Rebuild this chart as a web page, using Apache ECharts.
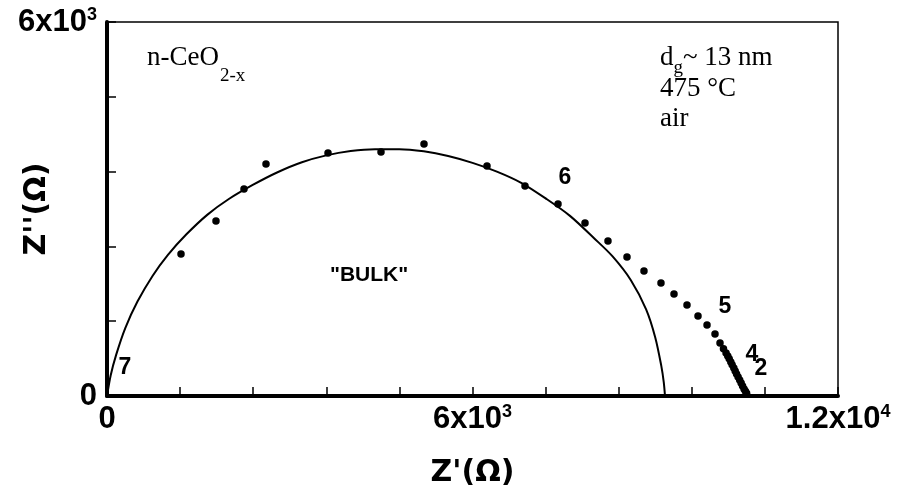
<!DOCTYPE html>
<html>
<head>
<meta charset="utf-8">
<script src="https://cdn.jsdelivr.net/npm/echarts@6/dist/echarts.min.js"></script>
<style>
  html, body { margin: 0; padding: 0; background: #fff; }
  #chart { width: 899px; height: 492px; }
</style>
</head>
<body>
<div id="chart"></div>
<script>
// Measured impedance spectrum, n-CeO2-x, 475 °C in air (Ohm)
const measuredReal = [1215, 1789, 2249, 2610, 3628, 4498, 5204, 6238, 6862, 7404, 7847, 8224, 8536, 8815, 9094, 9308, 9521, 9702, 9850, 9981, 10063, 10120,
  10162, 10190, 10214, 10240, 10262, 10290, 10312, 10335, 10360, 10386, 10410, 10433, 10458, 10480, 10500];
const measuredImag = [2278, 2808, 3321, 3722, 3898, 3914, 4043, 3690, 3369, 3080, 2775, 2487, 2230, 2005, 1813, 1636, 1460, 1283, 1139, 995, 850, 760,
  690, 640, 596, 545, 500, 448, 400, 352, 306, 255, 210, 160, 112, 78, 45];

// Fitted bulk arc
const fitReal = [0, 60, 150, 300, 500, 750, 1000, 1300, 1650, 2000, 2400, 2800, 3200, 3600, 4000, 4400, 4800, 5200, 5600, 6000,
  6400, 6800, 7200, 7600, 8000, 8300, 8600, 8850, 9000, 9100, 9140, 9160];
const fitImag = [0, 330, 660, 1090, 1515, 1930, 2265, 2590, 2910, 3160, 3390, 3590, 3750, 3860, 3930, 3960, 3960, 3925, 3850, 3740,
  3600, 3420, 3170, 2890, 2527, 2239, 1858, 1390, 940, 480, 220, 0];

// log(frequency) decade markers
const decadeLabels = ['7', '6', '5', '4', '2'];
const decadeReal = [295, 7518, 10145, 10588, 10736];
const decadeImag = [449, 3497, 1428, 658, 433];

// Tick labels shown on the axes (all other ticks unlabeled)
const xTickText = { 0: '{m|0}', 6000: '{m|6x10}{s|3}', 12000: '{m|1.2x10}{s|4}' };
const yTickText = { 0: '{m|0}', 6000: '{m|6x10}{s|3}' };

const pairs = (xs, ys) => xs.map((x, i) => [x, ys[i]]);

const tickRich = {
  m: { fontFamily: 'Liberation Sans', fontWeight: 'bold', fontSize: 31, lineHeight: 32, color: '#000' },
  s: { fontFamily: 'Liberation Sans', fontWeight: 'bold', fontSize: 18, lineHeight: 18, verticalAlign: 'top', color: '#000' }
};

const chart = echarts.init(document.getElementById('chart'), null, { renderer: 'canvas' });

chart.setOption({
  backgroundColor: '#fff',
  animation: false,
  grid: {
    left: 107, right: 61, top: 22, bottom: 96,
    containLabel: false, outerBoundsMode: 'none',
    show: true, borderColor: '#000', borderWidth: 1.5, backgroundColor: 'transparent'
  },
  xAxis: {
    type: 'value', min: 0, max: 12000, interval: 1200,
    axisLine: { lineStyle: { color: '#000', width: 4 } },
    axisTick: { inside: true, length: 9, lineStyle: { color: '#000', width: 1.5 } },
    splitLine: { show: false },
    axisLabel: {
      margin: 7, showMinLabel: true, showMaxLabel: true, hideOverlap: false,
      formatter: v => xTickText[v] || '',
      rich: tickRich
    },
    name: "Z'(Ω)", nameLocation: 'middle', nameGap: 62, nameMoveOverlap: false,
    nameTextStyle: { fontFamily: 'DejaVu Sans', fontWeight: 'bold', fontSize: 30, color: '#000' }
  },
  yAxis: {
    type: 'value', min: 0, max: 6000, interval: 1200,
    axisLine: { lineStyle: { color: '#000', width: 4 } },
    axisTick: { inside: true, length: 9, lineStyle: { color: '#000', width: 1.5 } },
    splitLine: { show: false },
    axisLabel: {
      margin: 10, showMinLabel: true, showMaxLabel: true, hideOverlap: false,
      formatter: v => yTickText[v] || '',
      rich: tickRich
    },
    name: "Z''(Ω)", nameLocation: 'middle', nameGap: 55, nameMoveOverlap: false,
    nameTextStyle: { fontFamily: 'DejaVu Sans', fontWeight: 'bold', fontSize: 30, color: '#000' }
  },
  series: [
    {
      name: 'fit', type: 'line', data: pairs(fitReal, fitImag),
      smooth: 0.3, showSymbol: false, silent: true,
      lineStyle: { color: '#000', width: 2 }
    },
    {
      name: 'measured', type: 'scatter', data: pairs(measuredReal, measuredImag),
      symbol: 'circle', symbolSize: 7.5, silent: true,
      itemStyle: { color: '#000', opacity: 1 }
    },
    {
      name: 'decades', type: 'scatter', silent: true,
      data: decadeLabels.map((t, i) => ({ value: [decadeReal[i], decadeImag[i]], name: t })),
      symbolSize: 0,
      itemStyle: { opacity: 1 },
      label: {
        show: true, position: 'inside', formatter: p => p.name,
        fontFamily: 'Liberation Sans', fontWeight: 'bold', fontSize: 23, color: '#000'
      }
    }
  ],
  graphic: [
    {
      type: 'text', left: 147, top: 44,
      style: {
        text: '{a|n-CeO}{b|2-x}',
        rich: {
          a: { fontFamily: 'Liberation Serif', fontSize: 27, lineHeight: 30, verticalAlign: 'top', fill: '#000' },
          b: { fontFamily: 'Liberation Serif', fontSize: 19, lineHeight: 19, verticalAlign: 'bottom', padding: [0, 0, -12, 1], fill: '#000' }
        }
      }
    },
    {
      type: 'text', left: 660, top: 44,
      style: {
        text: '{a|d}{b|g}{a|~ 13 nm}',
        rich: {
          a: { fontFamily: 'Liberation Serif', fontSize: 27, lineHeight: 30, fill: '#000' },
          b: { fontFamily: 'Liberation Serif', fontSize: 19, lineHeight: 19, verticalAlign: 'bottom', padding: [0, 0, -5, 0], fill: '#000' }
        }
      }
    },
    {
      type: 'text', left: 660, top: 74,
      style: { text: '475 °C\nair', fontFamily: 'Liberation Serif', fontSize: 27, lineHeight: 30, fill: '#000' }
    },
    {
      type: 'text', left: 330, top: 265,
      style: { text: '"BULK"', fontFamily: 'Liberation Sans', fontWeight: 'bold', fontSize: 21, fill: '#000' }
    }
  ]
});
</script>
</body>
</html>
